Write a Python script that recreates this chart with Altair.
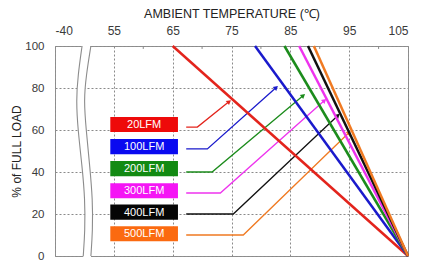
import math
import altair as alt
import pandas as pd

# ---- data ----
labels = ["20LFM", "100LFM", "200LFM", "300LFM", "400LFM", "500LFM"]
line_colors = ["#e3241c", "#1a1acc", "#1c8c1c", "#ee33ee", "#111111", "#f07a22"]
box_colors = ["#ee0a0a", "#0a0af0", "#128a12", "#f515f5", "#050505", "#fb6a10"]
start_temp = [65, 79, 84, 86.5, 88, 89]     # temperature where derating starts (100 %)
end_temp = 105                               # 0 % load at 105 °C
box_y = [62.6, 52.1, 41.6, 31.1, 20.9, 10.6]
arrow_y = [61.4, 51.0, 40.0, 30.0, 20.0, 10.0]
arrow_x0 = 67.3
bend_x = [69.2, 70.9, 71.7, 73.1, 75.3, 77.0]
tip_x = [74.5, 82.5, 87.1, 90.7, 93.0, 94.9]
tip_y = [73.3, 80.0, 76.2, 73.8, 66.7, 58.6]
box_x0, box_x1 = 54.4, 65.9

x_ticks = [45, 55, 65, 75, 85, 95, 105]
y_ticks = [0, 20, 40, 60, 80, 100]
minor_x = [60, 70, 80, 90, 100]

brk_y = [100, 86, 74, 60, 43, 27, 12, 0]
brk_left = [49.6, 48.9, 48.6, 48.9, 49.6, 50.1, 50.1, 49.8]
brk_right = [51.1, 50.3, 49.9, 50.3, 50.9, 51.4, 51.4, 51.1]

W, H = 353, 210
XD = [45, 105]
px_x = W / (XD[1] - XD[0])
px_y = H / 100

FONT = "Liberation Sans"

# ---- tables ----
lines = []
for lab, t0 in zip(labels, start_temp):
    lines.append({"s": lab, "t": t0, "p": 100, "o": 0})
    lines.append({"s": lab, "t": end_temp, "p": 0, "o": 1})
lines = pd.DataFrame(lines)

arrows = []
heads = []
for lab, ay, bx, tx, ty in zip(labels, arrow_y, bend_x, tip_x, tip_y):
    arrows += [{"s": lab, "t": arrow_x0, "p": ay, "o": 0},
               {"s": lab, "t": bx, "p": ay, "o": 1},
               {"s": lab, "t": tx, "p": ty, "o": 2}]
    ang = math.degrees(math.atan2((tx - bx) * px_x, (ty - ay) * px_y))
    heads.append({"s": lab, "t": tx, "p": ty, "a": ang})
arrows = pd.DataFrame(arrows)
heads = pd.DataFrame(heads)

boxes = pd.DataFrame({"s": labels, "y": box_y, "c": box_colors,
                      "x0": box_x0, "x1": box_x1})

brk_fill = pd.DataFrame({"y": [101] + brk_y[1:-1] + [-1],
                         "l": brk_left, "r": brk_right})
brk_lines = pd.DataFrame(
    [{"side": "l", "i": i, "y": y, "x": x} for i, (y, x) in enumerate(zip(brk_y, brk_left))] +
    [{"side": "r", "i": i, "y": y, "x": x} for i, (y, x) in enumerate(zip(brk_y, brk_right))])

minor = pd.DataFrame({"t": minor_x, "p": 100, "p2": 98.6})

xs = alt.Scale(domain=XD, nice=False, zero=False)
ys = alt.Scale(domain=[0, 100], nice=False)
cs = alt.Scale(domain=labels, range=line_colors)

x_axis = alt.Axis(orient="top", values=x_ticks, title="AMBIENT TEMPERATURE (℃)",
                  labelExpr="datum.value == 45 ? '-40' : datum.label",
                  ticks=False, labelPadding=9, titlePadding=4,
                  grid=True, gridDash=[2, 2], gridColor="#8a8a8a", gridWidth=1,
                  domain=False, labelFontSize=12, titleFontSize=12.5,
                  labelColor="#3a3a3a", titleColor="#222222",
                  labelFont=FONT, titleFont=FONT, titleFontWeight="normal")
y_axis = alt.Axis(values=y_ticks, title="% of FULL LOAD", ticks=False,
                  labelPadding=11, titlePadding=1,
                  grid=True, gridDash=[2, 2], gridColor="#8a8a8a", gridWidth=1,
                  domain=False, labelFontSize=11.5, titleFontSize=12,
                  labelColor="#3a3a3a", titleColor="#222222",
                  labelFont=FONT, titleFont=FONT, titleFontWeight="normal")

grid_base = alt.Chart(lines).mark_point(opacity=0).encode(
    x=alt.X("t:Q", scale=xs, axis=x_axis),
    y=alt.Y("p:Q", scale=ys, axis=y_axis))

minor_ticks = alt.Chart(minor).mark_rule(color="#888888", strokeWidth=1).encode(
    x="t:Q", y="p:Q", y2="p2:Q")

brk_area = alt.Chart(brk_fill).mark_area(
    color="white", orient="horizontal", interpolate="basis", clip=False).encode(
    y="y:Q", x="l:Q", x2="r:Q")

brk_curve = alt.Chart(brk_lines).mark_line(
    color="#8c8c8c", strokeWidth=1.1, interpolate="basis").encode(
    x="x:Q", y="y:Q", detail="side:N", order="i:Q")

arrow_lines = alt.Chart(arrows).mark_line(strokeWidth=1.3).encode(
    x="t:Q", y="p:Q",
    color=alt.Color("s:N", scale=cs, legend=None),
    detail="s:N", order="o:Q")

arrow_heads = alt.Chart(heads).mark_point(
    shape="triangle", filled=True, size=28, opacity=1).encode(
    x="t:Q", y="p:Q", angle=alt.Angle("a:Q", scale=None),
    color=alt.Color("s:N", scale=cs, legend=None))

derate = alt.Chart(lines).mark_line(strokeWidth=2.5).encode(
    x="t:Q", y="p:Q",
    color=alt.Color("s:N", scale=cs, legend=None),
    detail="s:N", order="o:Q")

box_rect = alt.Chart(boxes).transform_calculate(
    y0="datum.y - 3.6", y1="datum.y + 3.6").mark_rect().encode(
    x="x0:Q", x2="x1:Q", y="y0:Q", y2="y1:Q",
    color=alt.Color("c:N", scale=None))

box_text = alt.Chart(boxes).transform_calculate(
    xm="(datum.x0 + datum.x1) / 2").mark_text(
    color="white", fontSize=11, font=FONT, baseline="middle", align="center",
    dy=0.5).encode(x="xm:Q", y="y:Q", text="s:N")

chart = alt.layer(
    grid_base, minor_ticks, brk_area, brk_curve, arrow_lines, arrow_heads,
    derate, box_rect, box_text
).properties(
    width=W, height=H,
    autosize=alt.AutoSizeParams(type="none"),
    padding={"left": 47, "top": 38, "right": 5, "bottom": 5},
    background="white"
).configure_view(stroke="#909090", strokeWidth=1)

chart.save("out.html", embed_options={"renderer": "svg", "actions": False})
